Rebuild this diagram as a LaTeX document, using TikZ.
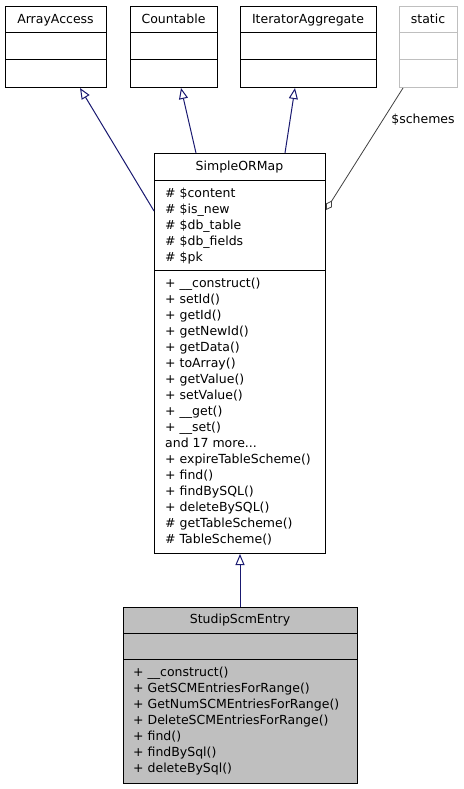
\documentclass[tikz,border=0pt]{standalone}
\usepackage{fontspec}
\setmainfont{DejaVu Sans}
\usetikzlibrary{arrows.meta}
\definecolor{edgeblue}{HTML}{191970}
\definecolor{edgegrey}{HTML}{404040}
\definecolor{boxline}{HTML}{BFBFBF}
\definecolor{boxfill}{HTML}{BFBFBF}

\begin{document}
\begin{tikzpicture}[x=1pt,y=-1pt,
  cls/.style={draw,line width=1pt,inner sep=0,anchor=north west},
  title/.style={anchor=base,inner sep=0,font=\fontsize{12.5}{16}\selectfont},
  member/.style={anchor=base west,inner sep=0,font=\fontsize{12.5}{16}\selectfont},
  gen/.style={draw=edgeblue,line width=1pt,-{Triangle[open,length=11pt,width=9pt]}},
  agg/.style={draw=edgegrey,line width=0.8pt,{Diamond[open,length=11pt,width=7pt]}-},
]
  \useasboundingbox (0,0) rectangle (463,789);

  % interfaces and the static holder
  \foreach \nm/\x/\w/\txt/\clr in {aa/5/101/ArrayAccess/black, ct/130/87/Countable/black,
      ia/240/136/IteratorAggregate/black, st/399/58/static/boxline} {
    \node[cls,draw=\clr,minimum width=\w pt,minimum height=81pt] (\nm) at (\x,6) {};
    \node[title] (\nm-t) at (\x+\w/2,24) {\txt};
    \draw[\clr,line width=1pt] (\nm.west |- 0,33) -- (\nm.east |- 0,33)
      (\nm.west |- 0,60) -- (\nm.east |- 0,60);
  }

  % base class
  \node[cls,minimum width=171pt,minimum height=400pt] (som) at (154,153) {};
  \node[title] (som-t) at (239.5,170.5) {SimpleORMap};
  \draw[line width=1pt] (som.west |- 0,180) -- (som.east |- 0,180)
    (som.west |- 0,270) -- (som.east |- 0,270);
  \foreach \m [count=\i from 0] in {\# \$content, \# \$is\_new, \# \$db\_table,
      \# \$db\_fields, \# \$pk}
    \node[member] (sa\i) at (165,197.5+16*\i) {\m};
  \foreach \m [count=\i from 0] in {+ \_\_construct(), + setId(), + getId(), + getNewId(),
      + getData(), + toArray(), + getValue(), + setValue(), + \_\_get(), + \_\_set(),
      and 17 more.{}.{}., + expireTableScheme(), + find(), + findBySQL(), + deleteBySQL(),
      \# getTableScheme(), \# TableScheme()}
    \node[member] (sm\i) at (165,287.5+16*\i) {\m};

  % derived class
  \node[cls,fill=boxfill,minimum width=234pt,minimum height=176pt] (sce) at (123,607) {};
  \node[title] (sce-t) at (240,623.5) {StudipScmEntry};
  \draw[line width=1pt] (sce.west |- 0,633) -- (sce.east |- 0,633)
    (sce.west |- 0,659) -- (sce.east |- 0,659);
  \foreach \m [count=\i from 0] in {+ \_\_construct(), + GetSCMEntriesForRange(),
      + GetNumSCMEntriesForRange(), + DeleteSCMEntriesForRange(), + find(),
      + findBySql(), + deleteBySql()}
    \node[member] (se\i) at (133,676.5+16*\i) {\m};

  % connectors
  \draw[gen] (som.west |- 0,211) -- (aa.south -| 80,0);
  \draw[gen] (som.north -| 196,0) -- (ct.south -| 181,0);
  \draw[gen] (som.north -| 285,0) -- (ia.south -| 295,0);
  \draw[gen] (sce.north -| som.south) -- (som.south);
  \draw[agg] (som.east |- 0,210) -- (st.south -| 403,0);
  \node[title] (lbl) at (423,123.5) {\$schemes};
\end{tikzpicture}
\end{document}
